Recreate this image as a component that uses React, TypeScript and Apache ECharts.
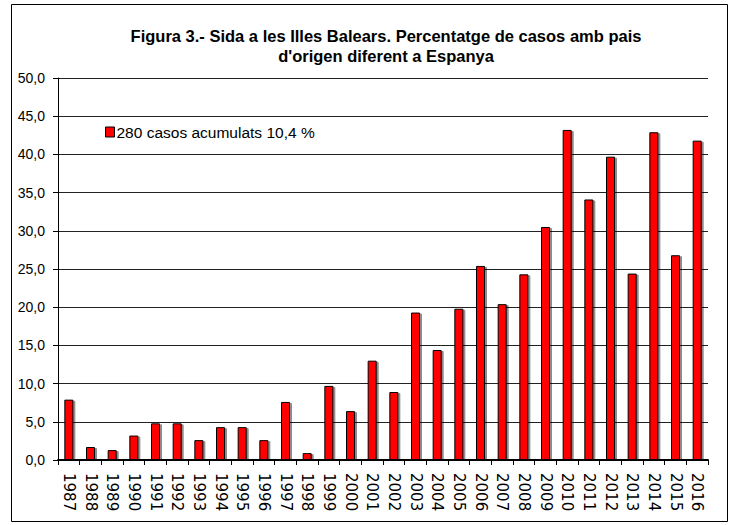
import React, { useEffect, useRef } from "react";
import * as echarts from "echarts";

const years = [
  "1987", "1988", "1989", "1990", "1991", "1992", "1993", "1994", "1995", "1996",
  "1997", "1998", "1999", "2000", "2001", "2002", "2003", "2004", "2005", "2006",
  "2007", "2008", "2009", "2010", "2011", "2012", "2013", "2014", "2015", "2016",
];
const percentages = [
  7.9, 1.7, 1.3, 3.2, 4.8, 4.8, 2.6, 4.3, 4.3, 2.6,
  7.6, 0.9, 9.7, 6.4, 13.0, 8.9, 19.3, 14.4, 19.8, 25.4,
  20.4, 24.3, 30.5, 43.2, 34.1, 39.7, 24.4, 42.9, 26.8, 41.8,
];
const seriesName = "280 casos acumulats 10,4 %";
const titleText = "Figura 3.- Sida a les Illes Balears. Percentatge de casos amb pais\nd'origen diferent a Espanya";

export default function App() {
  const ref = useRef<HTMLDivElement>(null);
  useEffect(() => {
    document.body.style.margin = "0";
    const chart = echarts.init(ref.current!, undefined, { renderer: "svg" });
    chart.setOption({
      animation: false,
      backgroundColor: "#ffffff",
      textStyle: { fontFamily: "Liberation Sans" },
      graphic: [
        {
          type: "rect",
          shape: { x: 11.5, y: 4.5, width: 716, height: 517 },
          style: { fill: "none", stroke: "#000", lineWidth: 1 },
          silent: true,
        },
      ],
      title: {
        text: titleText,
        left: 386,
        textAlign: "center",
        top: 26,
        padding: 0,
        textStyle: {
          fontFamily: "Liberation Sans",
          fontWeight: "bold",
          fontSize: 16.5,
          color: "#000",
          lineHeight: 20,
        },
      },
      legend: {
        left: 105,
        top: 124,
        padding: 0,
        itemWidth: 9,
        itemHeight: 10,
        icon: "rect",
        textStyle: { fontSize: 15.5, color: "#000", fontFamily: "Liberation Sans", padding: [0, 0, 0, -3] },
        data: [{ name: seriesName, itemStyle: { color: "#ff0000", borderColor: "#000", borderWidth: 1 } }],
      },
      grid: { left: 58, right: 27, top: 78, bottom: 65, containLabel: false },
      xAxis: {
        type: "category",
        data: years,
        boundaryGap: true,
        axisLine: { show: true, lineStyle: { color: "#000", width: 2 } },
        axisTick: { show: true, alignWithLabel: false, length: 5, lineStyle: { color: "#000" } },
        axisLabel: {
          rotate: -90,
          interval: 0,
          margin: 13,
          fontSize: 15,
          color: "#000",
          fontFamily: "DejaVu Sans",
        },
      },
      yAxis: {
        type: "value",
        min: 0,
        max: 50,
        interval: 5,
        axisLine: { show: true, lineStyle: { color: "#000", width: 1 } },
        axisTick: { show: true, length: 5, lineStyle: { color: "#000" } },
        axisLabel: {
          fontSize: 14,
          color: "#000",
          margin: 13,
          fontFamily: "Liberation Sans",
          formatter: (v: number) => v.toFixed(1).replace(".", ","),
        },
        splitLine: { show: true, lineStyle: { color: "#222", width: 1 } },
      },
      series: [
        {
          name: seriesName,
          type: "bar",
          data: percentages,
          barWidth: 9,
          itemStyle: {
            color: "#ff0000",
            borderColor: "#000",
            borderWidth: 1,
            shadowColor: "rgba(0,0,0,0.45)",
            shadowOffsetX: 2,
            shadowOffsetY: 1,
            shadowBlur: 0,
          },
        },
      ],
    });
    return () => chart.dispose();
  }, []);
  return <div ref={ref} style={{ width: 735, height: 525 }} />;
}
